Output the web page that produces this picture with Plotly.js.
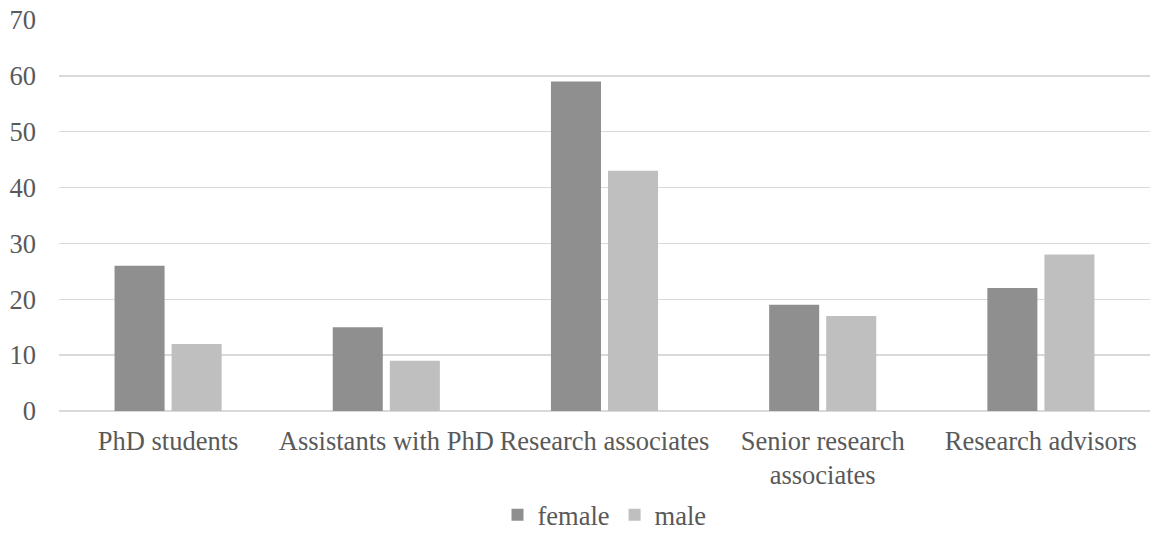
<!DOCTYPE html>
<html>
<head>
<meta charset="utf-8">
<script src="https://cdn.plot.ly/plotly-3.0.1.min.js"></script>
<style>html,body{margin:0;padding:0;background:#fff;}#chart{width:1168px;height:539px;}</style>
</head>
<body>
<div id="chart"></div>
<script>
var categories = ["PhD students", "Assistants with PhD", "Research associates", "Senior research<br>associates", "Research advisors"];
var female = [26, 15, 59, 19, 22];
var male = [12, 9, 43, 17, 28];
var yTicks = [0, 10, 20, 30, 40, 50, 60, 70];

var FAM = "Liberation Serif";
var FS = 26.5;
var FC = "#595959";

var data = [
  {type: "bar", name: "female", x: categories, y: female, marker: {color: "#8f8f8f"}, hoverinfo: "none"},
  {type: "bar", name: "male", x: categories, y: male, marker: {color: "#bfbfbf"}, hoverinfo: "none"}
];

var layout = {
  width: 1168, height: 539,
  margin: {l: 59, r: 18, t: 20, b: 128, autoexpand: false},
  paper_bgcolor: "#fff", plot_bgcolor: "#fff",
  font: {family: FAM, size: FS, color: FC},
  barmode: "group",
  bargap: 0.477,
  bargroupgap: 0.123,
  showlegend: true,
  legend: {orientation: "h", x: 0.5, xanchor: "center", yref: "container", y: 0, yanchor: "bottom", font: {family: FAM, size: FS, color: FC}, itemwidth: 30, tracegroupgap: 0},
  xaxis: {
    type: "category", showgrid: false, zeroline: false,
    showline: false, ticks: "", tickfont: {family: FAM, size: FS, color: FC}, ticklabelstandoff: 11
  },
  yaxis: {
    range: [0, 70], tickvals: yTicks, ticktext: yTicks.map(String),
    showgrid: true, gridcolor: "#d9d9d9", gridwidth: 1.5,
    zeroline: true, zerolinecolor: "#d9d9d9", zerolinewidth: 1.5,
    showline: false, ticks: "", tickfont: {family: FAM, size: FS, color: FC}, ticklabelstandoff: 22
  }
};

Plotly.newPlot("chart", data, layout, {displayModeBar: false, staticPlot: true});
</script>
</body>
</html>
